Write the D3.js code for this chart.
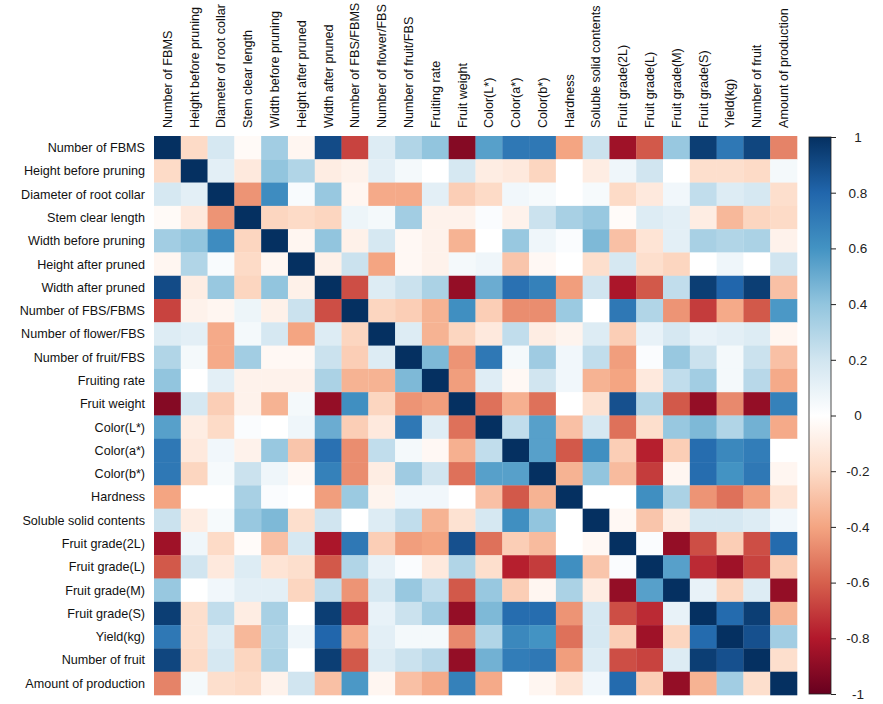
<!DOCTYPE html>
<html>
<head>
<meta charset="utf-8">
<script src="https://cdn.jsdelivr.net/npm/d3@7"></script>
<style>
  body { margin: 0; background: #fff; }
  text { font-family: "Liberation Sans", Arial, sans-serif; }
</style>
</head>
<body>
<div id="canvas"></div>
<script>
// variable names, same order on both axes
var labels = ["Number of FBMS", "Height before pruning", "Diameter of root collar", "Stem clear length",
  "Width before pruning", "Height after pruned", "Width after pruned", "Number of FBS/FBMS",
  "Number of flower/FBS", "Number of fruit/FBS", "Fruiting rate", "Fruit weight",
  "Color(L*)", "Color(a*)", "Color(b*)", "Hardness", "Soluble solid contents",
  "Fruit grade(2L)", "Fruit grade(L)", "Fruit grade(M)", "Fruit grade(S)",
  "Yield(kg)", "Number of fruit", "Amount of production"];

// correlation rows
var corr = [
  [1, -0.2, 0.18, -0.03, 0.35, -0.05, 0.9, -0.68, 0.15, 0.3, 0.4, -0.92, 0.55, 0.72, 0.72, -0.4, 0.22, -0.85, -0.62, 0.38, 0.95, 0.72, 0.92, -0.5],
  [-0.2, 1, 0.12, -0.12, 0.4, 0.3, -0.1, -0.07, 0.12, 0.05, 0.0, 0.18, -0.1, -0.12, -0.22, 0.0, -0.1, 0.07, 0.2, 0.0, -0.18, -0.18, -0.2, 0.05],
  [0.18, 0.12, 1, -0.45, 0.63, 0.03, 0.38, -0.05, -0.38, -0.38, 0.12, -0.25, -0.2, 0.06, 0.04, 0.0, 0.04, -0.2, -0.12, 0.06, 0.25, 0.15, 0.18, -0.18],
  [-0.03, -0.12, -0.45, 1, -0.22, -0.2, -0.22, 0.08, 0.05, 0.35, -0.07, -0.07, 0.02, -0.07, 0.22, 0.33, 0.38, -0.02, 0.15, 0.12, -0.1, -0.33, -0.22, -0.2],
  [0.35, 0.4, 0.63, -0.22, 1, -0.05, 0.4, -0.08, 0.18, -0.04, -0.07, -0.35, 0.0, 0.38, 0.07, 0.02, 0.45, -0.3, -0.15, 0.12, 0.33, 0.3, 0.32, -0.07],
  [-0.05, 0.3, 0.03, -0.2, -0.05, 1, -0.08, 0.22, -0.4, -0.04, -0.07, 0.05, 0.07, -0.28, -0.04, 0.0, -0.18, 0.18, -0.18, -0.22, 0.0, 0.07, 0.0, 0.2],
  [0.9, -0.1, 0.38, -0.22, 0.4, -0.08, 1, -0.65, 0.15, 0.22, 0.32, -0.88, 0.5, 0.75, 0.68, -0.42, 0.2, -0.82, -0.62, 0.25, 0.95, 0.8, 0.95, -0.3],
  [-0.68, -0.07, -0.05, 0.08, -0.08, 0.22, -0.65, 1, -0.22, -0.25, -0.35, 0.62, -0.25, -0.47, -0.47, 0.37, 0.0, 0.72, 0.3, -0.45, -0.7, -0.38, -0.62, 0.58],
  [0.15, 0.12, -0.38, 0.05, 0.18, -0.4, 0.15, -0.22, 1, 0.15, -0.35, -0.22, -0.12, 0.25, -0.1, -0.06, 0.15, -0.25, 0.1, 0.18, 0.1, 0.12, 0.15, -0.05],
  [0.3, 0.05, -0.38, 0.35, -0.04, -0.04, 0.22, -0.25, 0.15, 1, 0.45, -0.45, 0.72, 0.05, 0.36, 0.06, 0.25, -0.42, 0.02, 0.38, 0.22, 0.05, 0.22, -0.3],
  [0.4, 0.0, 0.12, -0.07, -0.07, -0.07, 0.32, -0.35, -0.35, 0.45, 1, -0.42, 0.14, -0.04, 0.2, 0.06, -0.35, -0.4, -0.12, 0.25, 0.35, 0.05, 0.28, -0.38],
  [-0.92, 0.18, -0.25, -0.07, -0.35, 0.05, -0.88, 0.62, -0.22, -0.45, -0.42, 1, -0.55, -0.36, -0.55, 0.0, -0.16, 0.88, 0.3, -0.62, -0.88, -0.48, -0.88, 0.68],
  [0.55, -0.1, -0.2, 0.02, 0.0, 0.07, 0.5, -0.25, -0.12, 0.72, 0.14, -0.55, 1, 0.25, 0.55, -0.3, 0.18, -0.55, -0.18, 0.38, 0.45, 0.3, 0.48, -0.38],
  [0.72, -0.12, 0.06, -0.07, 0.38, -0.28, 0.75, -0.47, 0.25, 0.05, -0.04, -0.36, 0.25, 1, 0.55, -0.62, 0.62, -0.25, -0.78, -0.25, 0.77, 0.65, 0.7, 0.0],
  [0.72, -0.22, 0.04, 0.22, 0.07, -0.04, 0.68, -0.47, -0.1, 0.36, 0.2, -0.55, 0.55, 0.55, 1, -0.35, 0.4, -0.32, -0.7, -0.05, 0.77, 0.6, 0.72, -0.05],
  [-0.4, 0.0, 0.0, 0.33, 0.02, 0.0, -0.42, 0.37, -0.06, 0.06, 0.06, 0.0, -0.3, -0.62, -0.35, 1, 0.0, 0.0, 0.62, 0.32, -0.45, -0.55, -0.42, -0.15],
  [0.22, -0.1, 0.04, 0.38, 0.45, -0.18, 0.2, 0.0, 0.15, 0.25, -0.35, -0.16, 0.18, 0.62, 0.4, 0.0, 1, -0.04, -0.28, -0.1, 0.18, 0.18, 0.15, 0.06],
  [-0.85, 0.07, -0.2, -0.02, -0.3, 0.18, -0.82, 0.72, -0.25, -0.42, -0.4, 0.88, -0.55, -0.25, -0.32, 0.0, -0.04, 1, 0.02, -0.88, -0.65, -0.25, -0.65, 0.78],
  [-0.62, 0.2, -0.12, 0.15, -0.15, -0.18, -0.62, 0.3, 0.1, 0.02, -0.12, 0.3, -0.18, -0.78, -0.7, 0.62, -0.28, 0.02, 1, 0.55, -0.75, -0.85, -0.68, -0.25],
  [0.38, 0.0, 0.06, 0.12, 0.12, -0.22, 0.25, -0.45, 0.18, 0.38, 0.25, -0.62, 0.38, -0.25, -0.05, 0.32, -0.1, -0.88, 0.55, 1, 0.1, -0.22, 0.15, -0.88],
  [0.95, -0.18, 0.25, -0.1, 0.33, 0.0, 0.95, -0.7, 0.1, 0.22, 0.35, -0.88, 0.45, 0.77, 0.77, -0.45, 0.18, -0.65, -0.75, 0.1, 1, 0.78, 0.95, -0.35],
  [0.72, -0.18, 0.15, -0.33, 0.3, 0.07, 0.8, -0.38, 0.12, 0.05, 0.05, -0.48, 0.3, 0.65, 0.6, -0.55, 0.18, -0.25, -0.85, -0.22, 0.78, 1, 0.88, 0.35],
  [0.92, -0.2, 0.18, -0.22, 0.32, 0.0, 0.95, -0.62, 0.15, 0.22, 0.28, -0.88, 0.48, 0.7, 0.72, -0.42, 0.15, -0.65, -0.68, 0.15, 0.95, 0.88, 1, -0.18],
  [-0.5, 0.05, -0.18, -0.2, -0.07, 0.2, -0.3, 0.58, -0.05, -0.3, -0.38, 0.68, -0.38, 0.0, -0.05, -0.15, 0.06, 0.78, -0.25, -0.88, -0.35, 0.35, -0.18, 1]
];

var legendTicks = [1, 0.8, 0.6, 0.4, 0.2, 0, -0.2, -0.4, -0.6, -0.8, -1];
var palette = ["#67001F", "#B2182B", "#D6604D", "#F4A582", "#FDDBC7", "#FFFFFF",
  "#D1E5F0", "#92C5DE", "#4393C3", "#2166AC", "#053061"];

var width = 883, height = 704;
var gLeft = 154, gTop = 136, gRight = 797, gBottom = 695;

var svg = d3.select('#canvas').append('svg')
  .attr('width', width)
  .attr('height', height);

var x = d3.scaleBand().domain(labels).range([gLeft, gRight]);
var y = d3.scaleBand().domain(labels).range([gTop, gBottom]);
var color = d3.scaleLinear()
  .domain(d3.range(palette.length).map(function (i) { return -1 + i * 2 / (palette.length - 1); }))
  .range(palette)
  .interpolate(d3.interpolateRgb);

var cells = [];
corr.forEach(function (row, i) {
  row.forEach(function (v, j) {
    cells.push({ r: labels[i], c: labels[j], v: v });
  });
});

svg.append('g').selectAll('rect').data(cells)
  .enter().append('rect')
  .attr('x', function (d) { return x(d.c); })
  .attr('y', function (d) { return y(d.r); })
  .attr('width', x.bandwidth() + 0.3)
  .attr('height', y.bandwidth() + 0.3)
  .attr('fill', function (d) { return color(d.v); });

// row labels
svg.append('g').selectAll('text').data(labels)
  .enter().append('text')
  .attr('x', gLeft - 9)
  .attr('y', function (d) { return y(d) + y.bandwidth() / 2; })
  .attr('dy', '0.35em')
  .attr('text-anchor', 'end')
  .attr('font-size', 12.6)
  .attr('fill', '#111')
  .text(function (d) { return d; });

// column labels (vertical)
svg.append('g').selectAll('text').data(labels)
  .enter().append('text')
  .attr('transform', function (d) {
    return 'translate(' + (x(d) + x.bandwidth() / 2) + ',' + (gTop - 8) + ') rotate(-90)';
  })
  .attr('dy', '0.35em')
  .attr('text-anchor', 'start')
  .attr('font-size', 12.6)
  .attr('fill', '#111')
  .text(function (d) { return d; });

// colour legend
var lx = 809, lw = 22;
var ly = d3.scaleLinear().domain([-1, 1]).range([694, 137]);

var grad = svg.append('defs').append('linearGradient')
  .attr('id', 'lg').attr('x1', 0).attr('y1', 1).attr('x2', 0).attr('y2', 0);
palette.forEach(function (c, i) {
  grad.append('stop').attr('offset', (i / (palette.length - 1)) * 100 + '%').attr('stop-color', c);
});

svg.append('rect')
  .attr('x', lx).attr('y', ly(1))
  .attr('width', lw).attr('height', ly(-1) - ly(1))
  .attr('fill', 'url(#lg)')
  .attr('stroke', '#222').attr('stroke-width', 0.8);

var axis = d3.axisRight(ly).tickValues(legendTicks).tickSize(5)
  .tickFormat(function (d) { return String(d); });
var ag = svg.append('g').attr('transform', 'translate(' + (lx + lw) + ',0)').call(axis);
ag.select('.domain').remove();
ag.selectAll('line').attr('stroke', '#222');
ag.selectAll('text')
  .attr('x', 27)
  .attr('text-anchor', 'middle')
  .attr('font-size', 13.5)
  .attr('font-family', '"Liberation Sans", Arial, sans-serif')
  .attr('fill', '#222');
</script>
</body>
</html>
